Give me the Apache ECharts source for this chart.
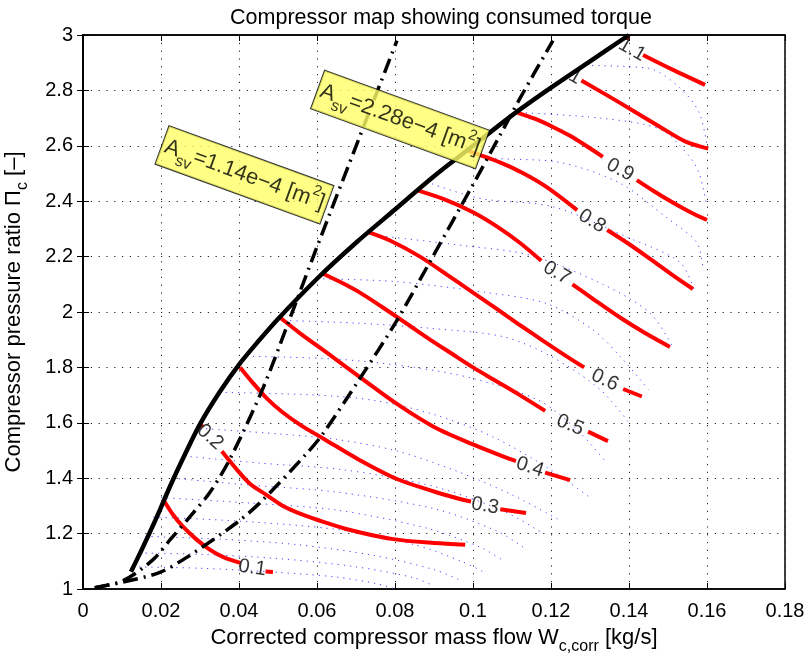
<!DOCTYPE html>
<html><head><meta charset="utf-8">
<script src="https://cdn.jsdelivr.net/npm/echarts@6/dist/echarts.min.js"></script>
<style>html,body{margin:0;padding:0;background:#fff}#c{width:809px;height:656px}</style>
</head><body><div id="c"></div>
<script>
// ---------- data ----------
const titleText = 'Compressor map showing consumed torque';
const xTickMin = 0, xTickMax = 0.18, xTickStep = 0.02;
const yTickMin = 1, yTickMax = 3, yTickStep = 0.2;

const surgeLine = [[0.0123,1.062],[0.0154,1.152],[0.019,1.262],[0.0223,1.37],[0.0256,1.47],[0.03,1.595],[0.035,1.71],[0.04,1.81],[0.045,1.895],[0.05,1.975],[0.06,2.12],[0.07,2.25],[0.08,2.37],[0.09,2.49],[0.10,2.60],[0.11,2.71],[0.12,2.81],[0.13,2.905],[0.14,3.0]];

const asvSmall = [[0.003,1.005],[0.0103,1.03],[0.0179,1.105],[0.0223,1.177],[0.0282,1.274],[0.0326,1.35],[0.0377,1.47],[0.046,1.72],[0.053,1.975],[0.06,2.235],[0.071,2.635],[0.0805,2.98]];
const asvLarge = [[0.003,1.005],[0.0103,1.025],[0.0197,1.06],[0.0267,1.115],[0.0395,1.24],[0.046,1.32],[0.0574,1.49],[0.0615,1.56],[0.071,1.76],[0.0805,1.97],[0.0897,2.20],[0.1,2.46],[0.107,2.64],[0.112,2.77],[0.1205,2.98]];

const torqueLevels = ['0.1','0.2','0.3','0.4','0.5','0.6','0.7','0.8','0.9','1','1.1'];
const torqueSegments = [
  [[[0.0205,1.325],[0.023,1.27],[0.0257,1.224],[0.029,1.18],[0.0326,1.141],[0.036,1.115],[0.0403,1.094]],[[0.0468,1.063],[0.0487,1.061]]],
  [[[0.030,1.598],[0.0306,1.586]],[[0.0356,1.497],[0.0395,1.43],[0.0428,1.38],[0.047,1.34],[0.0513,1.30],[0.056,1.27],[0.06,1.25],[0.0685,1.213],[0.0795,1.18],[0.09,1.166],[0.098,1.16]]],
  [[[0.0403,1.80],[0.0435,1.745],[0.047,1.69],[0.051,1.64],[0.056,1.59],[0.062,1.54],[0.071,1.465],[0.0805,1.397],[0.09,1.352],[0.0974,1.322],[0.0995,1.316]],[[0.107,1.288],[0.1136,1.274]]],
  [[[0.0505,1.98],[0.0555,1.925],[0.0633,1.845],[0.071,1.765],[0.0805,1.668],[0.09,1.585],[0.1,1.522],[0.108,1.477],[0.111,1.462]],[[0.1185,1.42],[0.1249,1.393]]],
  [[[0.0613,2.14],[0.066,2.108],[0.071,2.07],[0.0765,2.02],[0.0825,1.963],[0.0885,1.905],[0.0945,1.85],[0.1,1.80],[0.106,1.75],[0.112,1.70],[0.1185,1.643]],[[0.1295,1.568],[0.1346,1.534]]],
  [[[0.0728,2.29],[0.0787,2.258],[0.0864,2.20],[0.093,2.138],[0.1,2.07],[0.106,2.012],[0.112,1.953],[0.118,1.896],[0.124,1.84],[0.1285,1.80]],[[0.1385,1.722],[0.1433,1.695]]],
  [[[0.0856,2.44],[0.093,2.405],[0.1,2.36],[0.106,2.31],[0.112,2.25],[0.1175,2.185]],[[0.1255,2.10],[0.131,2.045],[0.1377,1.98],[0.144,1.925],[0.1505,1.874]]],
  [[[0.098,2.585],[0.1069,2.54],[0.113,2.50],[0.119,2.45],[0.1267,2.368]],[[0.1344,2.296],[0.1395,2.25],[0.1446,2.20],[0.151,2.135],[0.1564,2.083]]],
  [[[0.1113,2.72],[0.116,2.697],[0.1205,2.668],[0.125,2.635],[0.129,2.60],[0.1333,2.56]],[[0.142,2.476],[0.1465,2.435],[0.151,2.397],[0.1555,2.362],[0.16,2.332]]],
  [[[0.1278,2.836],[0.1377,2.755],[0.148,2.668],[0.1545,2.615],[0.1603,2.59]]],
  [[[0.1392,2.998],[0.1398,2.985]],[[0.1436,2.928],[0.1513,2.874],[0.1595,2.82]]]
];
const torqueLabelPos = [[0.0434,1.076],[0.0326,1.549],[0.1031,1.30],[0.1146,1.44],[0.1249,1.592],[0.1338,1.754],[0.1215,2.141],[0.1305,2.328],[0.1377,2.513],[0.1262,2.848],[0.1408,2.946]];

const speedLines = [
  [[0.0128,1.08],[0.03,1.075],[0.05,1.06],[0.065,1.043],[0.075,1.02],[0.08,1.0]],
  [[0.0145,1.13],[0.03,1.125],[0.05,1.11],[0.07,1.08],[0.085,1.04],[0.09,1.01]],
  [[0.016,1.19],[0.035,1.18],[0.055,1.16],[0.075,1.12],[0.09,1.07],[0.097,1.03]],
  [[0.018,1.26],[0.04,1.245],[0.065,1.215],[0.085,1.16],[0.097,1.10],[0.103,1.06]],
  [[0.02,1.33],[0.043,1.31],[0.065,1.285],[0.088,1.22],[0.102,1.15],[0.108,1.10]],
  [[0.023,1.40],[0.043,1.375],[0.065,1.35],[0.09,1.29],[0.106,1.21],[0.113,1.15]],
  [[0.026,1.48],[0.045,1.455],[0.067,1.43],[0.09,1.37],[0.108,1.28],[0.118,1.20]],
  [[0.03,1.58],[0.05,1.56],[0.065,1.54],[0.08,1.50],[0.095,1.43],[0.11,1.34],[0.122,1.25]],
  [[0.035,1.71],[0.06,1.70],[0.075,1.68],[0.09,1.63],[0.105,1.55],[0.12,1.43],[0.13,1.33]],
  [[0.042,1.84],[0.065,1.83],[0.085,1.80],[0.1,1.76],[0.117,1.68],[0.127,1.57],[0.134,1.46]],
  [[0.05,1.97],[0.07,1.96],[0.09,1.94],[0.108,1.91],[0.12,1.84],[0.1326,1.72],[0.14,1.60]],
  [[0.06,2.12],[0.08,2.11],[0.1036,2.07],[0.119,2.03],[0.1308,1.935],[0.1377,1.84],[0.145,1.72]],
  [[0.073,2.28],[0.0974,2.24],[0.1146,2.205],[0.1333,2.10],[0.1454,1.996],[0.151,1.88]],
  [[0.088,2.47],[0.1018,2.41],[0.1205,2.38],[0.1395,2.27],[0.153,2.18],[0.157,2.07]],
  [[0.098,2.58],[0.105,2.556],[0.1223,2.54],[0.1377,2.465],[0.1497,2.34],[0.1574,2.25],[0.159,2.15]],
  [[0.112,2.72],[0.1326,2.70],[0.148,2.66],[0.155,2.57],[0.158,2.50],[0.16,2.38]],
  [[0.1274,2.89],[0.145,2.88],[0.153,2.81],[0.158,2.72],[0.16,2.60]]
];

const asvAreas = ['1.14e\u22124','2.28e\u22124'];
const asvBoxPos = [[0.0414,2.495],[0.0813,2.695]];

const xName = ['Corrected compressor mass flow W','c,corr',' [kg/s]'];
const yName = ['Compressor pressure ratio \u03a0','c',' [\u2013]'];

// ---------- chart ----------
const FONT = '"Liberation Sans", Arial, Helvetica, sans-serif';
const labelAngles = [-8,-42,-10,-18,-22,-25,-30,-32,-28,-30,-30];
const series = [];

speedLines.forEach(d => series.push({
  type:'line', data:d, showSymbol:false, smooth:0.3, silent:true, z:1,
  lineStyle:{color:'#3333ff', width:1, type:[1.2,5], opacity:0.9}
}));

torqueSegments.forEach(segs => segs.forEach(d => series.push({
  type:'line', data:d, showSymbol:false, smooth:0.3, silent:true, z:3,
  lineStyle:{color:'#ff0000', width:4, cap:'butt'}
})));

[asvSmall, asvLarge].forEach(d => series.push({
  type:'line', data:d, showSymbol:false, smooth:0.3, silent:true, z:4,
  lineStyle:{color:'#000', width:3.5, type:[15,6,2,6]}
}));

series.push({
  type:'line', data:surgeLine, showSymbol:false, smooth:0.3, silent:true, z:5,
  lineStyle:{color:'#000', width:4.5}
});

series.push({
  type:'scatter', symbolSize:0, silent:true, z:6,
  data: torqueLabelPos.map((p,i) => ({
    value:p,
    label:{show:true, position:'inside', formatter: torqueLevels[i], rotate: labelAngles[i],
      color:'#000', fontSize:20, fontFamily:FONT}
  }))
});

series.push({
  type:'scatter', symbolSize:0, silent:true, z:10, zlevel:1,
  data: asvBoxPos.map((p,i) => ({
    value:p,
    label:{show:true, position:'inside', rotate:-20,
      formatter:'{a|A}{s|sv}{a|=' + asvAreas[i] + ' [m}{p|2}{a|]}',
      backgroundColor:'#ffff66', borderColor:'#000', borderWidth:1, padding:[0,3,0,3],
      rich:{
        a:{fontSize:22, fontFamily:FONT, color:'#000', lineHeight:40},
        s:{fontSize:16, fontFamily:FONT, color:'#000', lineHeight:40, verticalAlign:'bottom', padding:[0,0,2,0]},
        p:{fontSize:15, fontFamily:FONT, color:'#000', lineHeight:40, verticalAlign:'top', padding:[3,0,0,0]}
      }}
  }))
});

const axisLabelStyle = {color:'#000', fontSize:20, fontFamily:FONT};
const gridLine = {show:true, lineStyle:{color:'#222', width:1, type:[1.2,6.6]}};

const option = {
  animation:false,
  backgroundColor:'#fff',
  title:{text:titleText, left:436, textAlign:'center', top:2,
    textStyle:{fontSize:21.5, fontWeight:'normal', color:'#000', fontFamily:FONT}},
  grid:{left:83, right:24, top:35, bottom:67, containLabel:false, outerBoundsMode:'none',
    show:true, borderColor:'#000', borderWidth:1.5, backgroundColor:'transparent'},
  xAxis:[
    {type:'value', min:xTickMin, max:xTickMax, interval:xTickStep, position:'bottom',
     axisLine:{show:true, lineStyle:{color:'#000', width:1.5}},
     axisTick:{show:true, inside:true, length:6, lineStyle:{color:'#000'}},
     axisLabel:Object.assign({margin:12}, axisLabelStyle),
     splitLine:gridLine,
     name:'{m|' + xName[0] + '}{s|' + xName[1] + '}{m|' + xName[2] + '}', nameLocation:'middle', nameGap:32,
     nameTextStyle:{rich:{
       m:{fontSize:22, fontFamily:FONT, color:'#000', lineHeight:34},
       s:{fontSize:16, fontFamily:FONT, color:'#000', lineHeight:34, verticalAlign:'bottom'}}}},
    {type:'value', min:xTickMin, max:xTickMax, interval:xTickStep, position:'top',
     axisLine:{show:true, lineStyle:{color:'#000', width:1.5}},
     axisTick:{show:true, inside:true, length:6, lineStyle:{color:'#000'}},
     axisLabel:{show:false}, splitLine:{show:false}}
  ],
  yAxis:[
    {type:'value', min:yTickMin, max:yTickMax, interval:yTickStep, position:'left',
     axisLine:{show:true, lineStyle:{color:'#000', width:1.5}},
     axisTick:{show:true, inside:true, length:6, lineStyle:{color:'#000'}},
     axisLabel:Object.assign({margin:10}, axisLabelStyle),
     splitLine:gridLine,
     name:'{m|' + yName[0] + '}{s|' + yName[1] + '}{m|' + yName[2] + '}', nameLocation:'middle', nameGap:52, nameRotate:90,
     nameTextStyle:{rich:{
       m:{fontSize:22, fontFamily:FONT, color:'#000', lineHeight:34},
       s:{fontSize:16, fontFamily:FONT, color:'#000', lineHeight:34, verticalAlign:'bottom'}}}},
    {type:'value', min:yTickMin, max:yTickMax, interval:yTickStep, position:'right',
     axisLine:{show:true, lineStyle:{color:'#000', width:1.5}},
     axisTick:{show:true, inside:true, length:6, lineStyle:{color:'#000'}},
     axisLabel:{show:false}, splitLine:{show:false}}
  ],
  series: series
};

const chart = echarts.init(document.getElementById('c'), null, {renderer:'canvas'});
chart.setOption(option);
</script></body></html>
